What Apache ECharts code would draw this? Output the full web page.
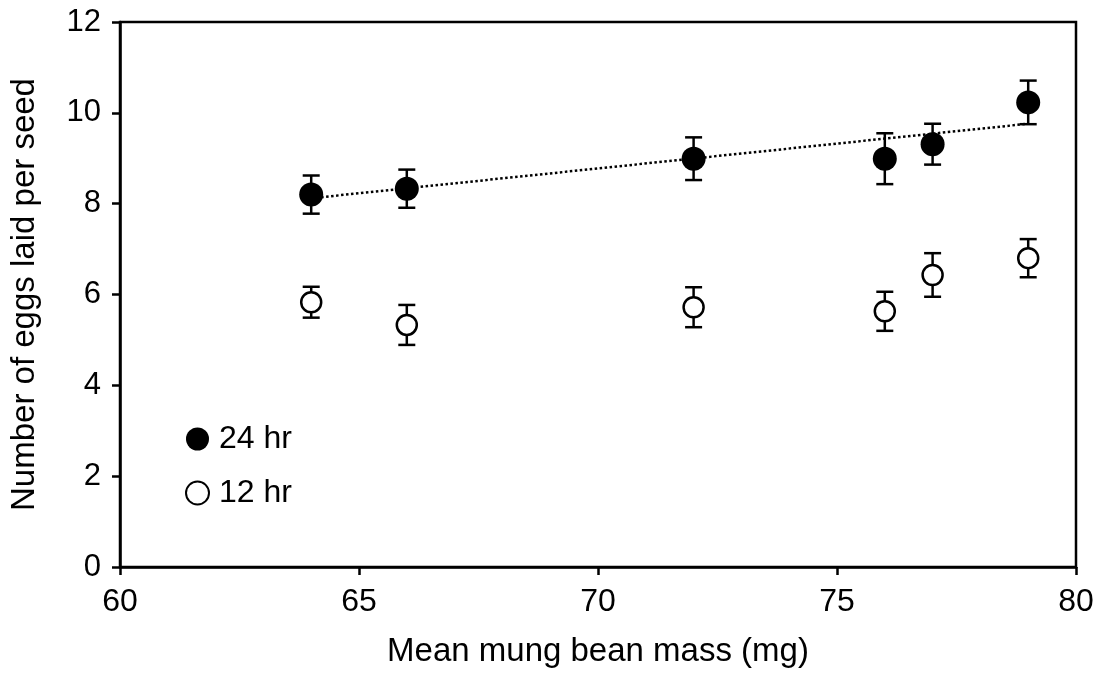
<!DOCTYPE html>
<html>
<head>
<meta charset="utf-8">
<title>Eggs laid per seed</title>
<script src="https://cdn.jsdelivr.net/npm/echarts@6/dist/echarts.min.js"></script>
<style>
  html, body { margin: 0; padding: 0; background: #fff; }
  #chart { width: 1101px; height: 673px; }
</style>
</head>
<body>
<div id="chart"></div>
<script>
// mean mung bean mass (mg)
const massX = [64, 66, 72, 76, 77, 79];
// 24 hr: mean eggs per seed and error bar half-length
const mean24 = [8.2, 8.33, 8.99, 8.99, 9.31, 10.23];
const err24 = [0.42, 0.42, 0.47, 0.56, 0.45, 0.48];
// 12 hr
const mean12 = [5.83, 5.33, 5.72, 5.63, 6.43, 6.8];
const err12 = [0.34, 0.44, 0.44, 0.43, 0.48, 0.42];
// fitted line for 24 hr, read at its ends
const trendX = [64, 79];
const trendY = [8.12, 9.76];

const font = "Liberation Sans";

const chart = echarts.init(document.getElementById("chart"), null, { renderer: "canvas" });

function points(ys) {
  return massX.map((x, i) => [x, ys[i]]);
}
function bars(ys, es) {
  return massX.map((x, i) => [x, ys[i] - es[i], ys[i] + es[i]]);
}

function errorBar(params, api) {
  const lo = api.coord([api.value(0), api.value(1)]);
  const hi = api.coord([api.value(0), api.value(2)]);
  const w = 8.5;
  const style = { stroke: "#000", lineWidth: 2.5 };
  return {
    type: "group",
    children: [
      { type: "line", shape: { x1: lo[0], y1: lo[1], x2: hi[0], y2: hi[1] }, style: style },
      { type: "line", shape: { x1: lo[0] - w, y1: lo[1], x2: lo[0] + w, y2: lo[1] }, style: style },
      { type: "line", shape: { x1: hi[0] - w, y1: hi[1], x2: hi[0] + w, y2: hi[1] }, style: style },
    ],
  };
}

let option = {
  animation: false,
  textStyle: { fontFamily: font, color: "#000" },
  grid: {
    left: 120,
    right: 25,
    top: 22,
    bottom: 104,
    show: true,
    borderColor: "#000",
    borderWidth: 2.5,
  },
  legend: {
    data: ["24 hr", "12 hr"],
    orient: "vertical",
    left: 180,
    top: 418,
    icon: "circle",
    itemWidth: 23,
    itemHeight: 23,
    itemGap: 22,
    textStyle: { fontFamily: font, fontSize: 32, color: "#000", padding: [0, 0, 0, 5] },
  },
  xAxis: {
    type: "value",
    min: 60,
    max: 80,
    interval: 5,
    name: "Mean mung bean mass (mg)",
    nameLocation: "middle",
    nameGap: 68,
    nameTextStyle: { fontFamily: font, fontSize: 33, color: "#000" },
    axisLine: { lineStyle: { color: "#000", width: 2.5 } },
    axisTick: { length: 8, lineStyle: { color: "#000", width: 2.5 } },
    axisLabel: { fontFamily: font, fontSize: 32, color: "#000", margin: 19 },
    splitLine: { show: false },
  },
  yAxis: {
    type: "value",
    min: 0,
    max: 12,
    interval: 2,
    name: "Number of eggs laid per seed",
    nameLocation: "middle",
    nameGap: 79,
    nameTextStyle: { fontFamily: font, fontSize: 33, color: "#000" },
    axisLine: { show: true, lineStyle: { color: "#000", width: 2.5 } },
    axisTick: { show: true, length: 8, lineStyle: { color: "#000", width: 2.5 } },
    axisLabel: { fontFamily: font, fontSize: 31, color: "#000", margin: 19 },
    splitLine: { show: false },
  },
  series: [
    {
      name: "trend",
      type: "line",
      data: trendX.map((x, i) => [x, trendY[i]]),
      symbol: "none",
      lineStyle: { color: "#000", width: 2.5, type: [2.5, 2.5] },
      z: 1,
    },
    {
      name: "err24",
      type: "custom",
      renderItem: errorBar,
      data: bars(mean24, err24),
      encode: { x: 0, y: [1, 2] },
      z: 2,
    },
    {
      name: "err12",
      type: "custom",
      renderItem: errorBar,
      data: bars(mean12, err12),
      encode: { x: 0, y: [1, 2] },
      z: 2,
    },
    {
      name: "24 hr",
      type: "scatter",
      data: points(mean24),
      symbol: "circle",
      symbolSize: 24,
      itemStyle: { color: "#000", opacity: 1 },
      z: 3,
    },
    {
      name: "12 hr",
      type: "scatter",
      data: points(mean12),
      symbol: "circle",
      symbolSize: 20,
      itemStyle: { color: "#fff", borderColor: "#000", borderWidth: 2.5, opacity: 1 },
      z: 3,
    },
  ],
};

chart.setOption(option);
</script>
</body>
</html>
